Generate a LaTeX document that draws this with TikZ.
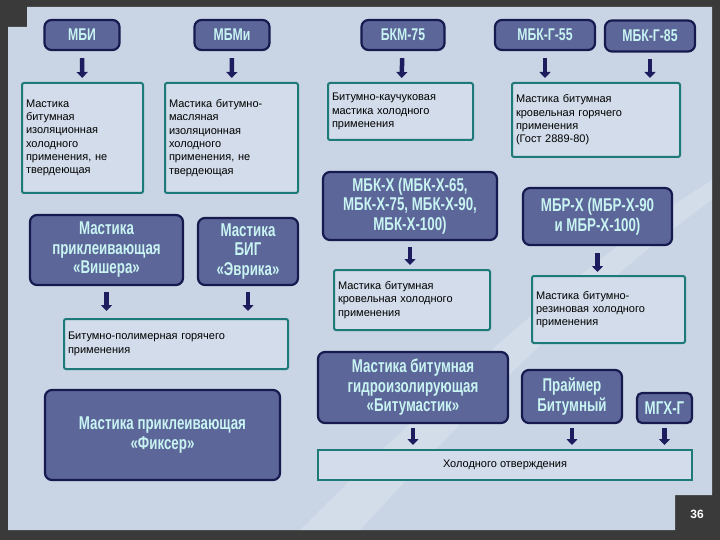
\documentclass[tikz,border=0pt]{standalone}
\usepackage{fontspec}
\setmainfont{Liberation Sans}
\newfontfamily\cond{Liberation Sans}[FakeStretch=0.72]
\usetikzlibrary{arrows.meta}
\definecolor{bgdark}{HTML}{3A3A3A}
\definecolor{panel}{HTML}{C9D5E5}
\definecolor{dfill}{HTML}{5C6698}
\definecolor{dline}{HTML}{161A4E}
\definecolor{dtext}{HTML}{C8F4F2}
\definecolor{lfill}{HTML}{D2DCEA}
\definecolor{lline}{HTML}{1E7A78}
\definecolor{arr}{HTML}{1C1C5E}
\tikzset{
 dbox/.style={draw=dline, line width=2.2pt, fill=dfill, rounded corners=7pt, text=dtext, align=center, inner sep=2pt},
 hf/.style={font=\cond\bfseries\fontsize{17}{19}\selectfont},
 bf/.style={font=\cond\bfseries\fontsize{18.5}{19.5}\selectfont},
 lbox/.style={draw=lline, line width=2pt, fill=lfill, rounded corners=2pt, text=black, font=\fontsize{11}{13.3}\selectfont, align=left, inner sep=4pt, text width=#1},
 lbox/.default=100pt,
 darr/.style={draw=arr, line width=4.5pt, -{Triangle[length=6pt,width=11pt]}},
}
\begin{document}
\begin{tikzpicture}[x=1pt,y=-1pt]
\useasboundingbox (0,0) rectangle (720,540);
\fill[bgdark] (0,0) rectangle (720,540);
\fill[panel] (27,7) -- (712,7) -- (712,495) -- (675,495) -- (675,530) -- (8,530) -- (8,27) -- (27,27) -- cycle;
\fill[white,opacity=0.2] (300,530) .. controls (450,380) and (600,250) .. (712,180) -- (712,200) .. controls (600,280) and (480,400) .. (360,530) -- cycle;
\node[text=white,font=\bfseries\fontsize{12}{14}\selectfont] (pg) at (697,514) {36};

% headers
\node[dbox, hf, minimum width=75pt, minimum height=30pt] (mbi) at (82,35) {МБИ};
\node[dbox, hf, minimum width=75pt, minimum height=30pt] (mbmi) at (232,35) {МБМи};
\node[dbox, hf, minimum width=83pt, minimum height=30pt] (bkm) at (403,35) {БКМ-75};
\node[dbox, hf, minimum width=100pt, minimum height=30pt] (g55) at (545,35) {МБК-Г-55};
\node[dbox, hf, minimum width=90pt, minimum height=31pt] (g85) at (650,36) {МБК-Г-85};

% text boxes row 1
\node[lbox=113pt, minimum height=110pt] (t1) at (82.5,138) {Мастика\\битумная\\изоляционная\\холодного\\применения, не\\твердеющая};
\node[lbox=125pt, minimum height=110pt] (t2) at (231.5,138) {Мастика битумно-\\масляная\\изоляционная\\холодного\\применения, не\\твердеющая};
\node[lbox=137pt, minimum height=57pt] (t3) at (400.5,111.5) {Битумно-каучуковая\\мастика холодного\\применения};
\node[lbox=160pt, minimum height=74pt] (t4) at (596,120) {Мастика битумная\\кровельная горячего\\применения\\(Гост 2889-80)};

\draw[darr, shorten <=7pt, shorten >=4pt] (mbi) -- (t1);
\draw[darr, shorten <=7pt, shorten >=4pt] (mbmi) -- (t2);
\draw[darr, shorten <=7pt, shorten >=4pt] (bkm) -- (t3);
\draw[darr, shorten <=7pt, shorten >=4pt] (g55.south) -- (g55.south |- t4.north);
\draw[darr, shorten <=6pt, shorten >=4pt] (g85.south) -- (g85.south |- t4.north);

% left column
\node[dbox, bf, minimum width=153pt, minimum height=70pt] (vish) at (106.5,250) {Мастика\\приклеивающая\\«Вишера»};
\node[dbox, bf, minimum width=100pt, minimum height=67pt] (evr) at (248,251.5) {Мастика\\БИГ\\«Эврика»};
\node[lbox=216pt, minimum height=50pt, anchor=north west] (poly) at (63,318) {Битумно-полимерная горячего\\применения};
\node[dbox, bf, minimum width=235pt, minimum height=90pt] (fix) at (162.5,435) {Мастика приклеивающая\\«Фиксер»};
\draw[darr, shorten <=6pt, shorten >=7pt] (vish.south) -- (vish.south |- poly.north);
\draw[darr, shorten <=6pt, shorten >=7pt] (evr.south) -- (evr.south |- poly.north);

% right middle
\node[dbox, bf, minimum width=174pt, minimum height=68pt] (mbkx) at (410,206) {МБК-Х (МБК-Х-65,\\МБК-Х-75, МБК-Х-90,\\МБК-Х-100)};
\node[dbox, bf, minimum width=149pt, minimum height=57pt] (mbrx) at (597.5,216.5) {МБР-Х (МБР-Х-90\\и МБР-Х-100)};
\node[lbox=148pt, minimum height=60pt] (t5) at (412,300) {Мастика битумная\\кровельная холодного\\применения};
\node[lbox=145pt, minimum height=67pt] (t6) at (608.5,309.5) {Мастика битумно-\\резиновая холодного\\применения};
\draw[darr, shorten <=6pt, shorten >=4pt] (mbkx) -- (mbkx.south |- t5.north);
\draw[darr, shorten <=7pt, shorten >=3pt] (mbrx.south) -- (mbrx.south |- t6.north);

% bottom right
\node[dbox, bf, minimum width=190pt, minimum height=71pt] (bitum) at (413,387.5) {Мастика битумная\\гидроизолирующая\\«Битумастик»};
\node[dbox, bf, minimum width=100pt, minimum height=53pt] (praim) at (572,396.5) {Праймер\\Битумный};
\node[dbox, bf, minimum width=55pt, minimum height=30pt, rounded corners=5pt] (mgx) at (664.5,408) {МГХ-Г};
\node[draw=lline, line width=2pt, fill=lfill, minimum width=374pt, minimum height=30pt, font=\fontsize{11}{13}\selectfont] (hol) at (505,465) {Холодного отверждения};
\draw[darr, shorten <=4pt, shorten >=4pt] (bitum.south) -- (bitum.south |- hol.north);
\draw[darr, shorten <=4pt, shorten >=4pt] (praim.south) -- (praim.south |- hol.north);
\draw[darr, shorten <=4pt, shorten >=4pt] (mgx.south) -- (mgx.south |- hol.north);
\end{tikzpicture}
\end{document}
